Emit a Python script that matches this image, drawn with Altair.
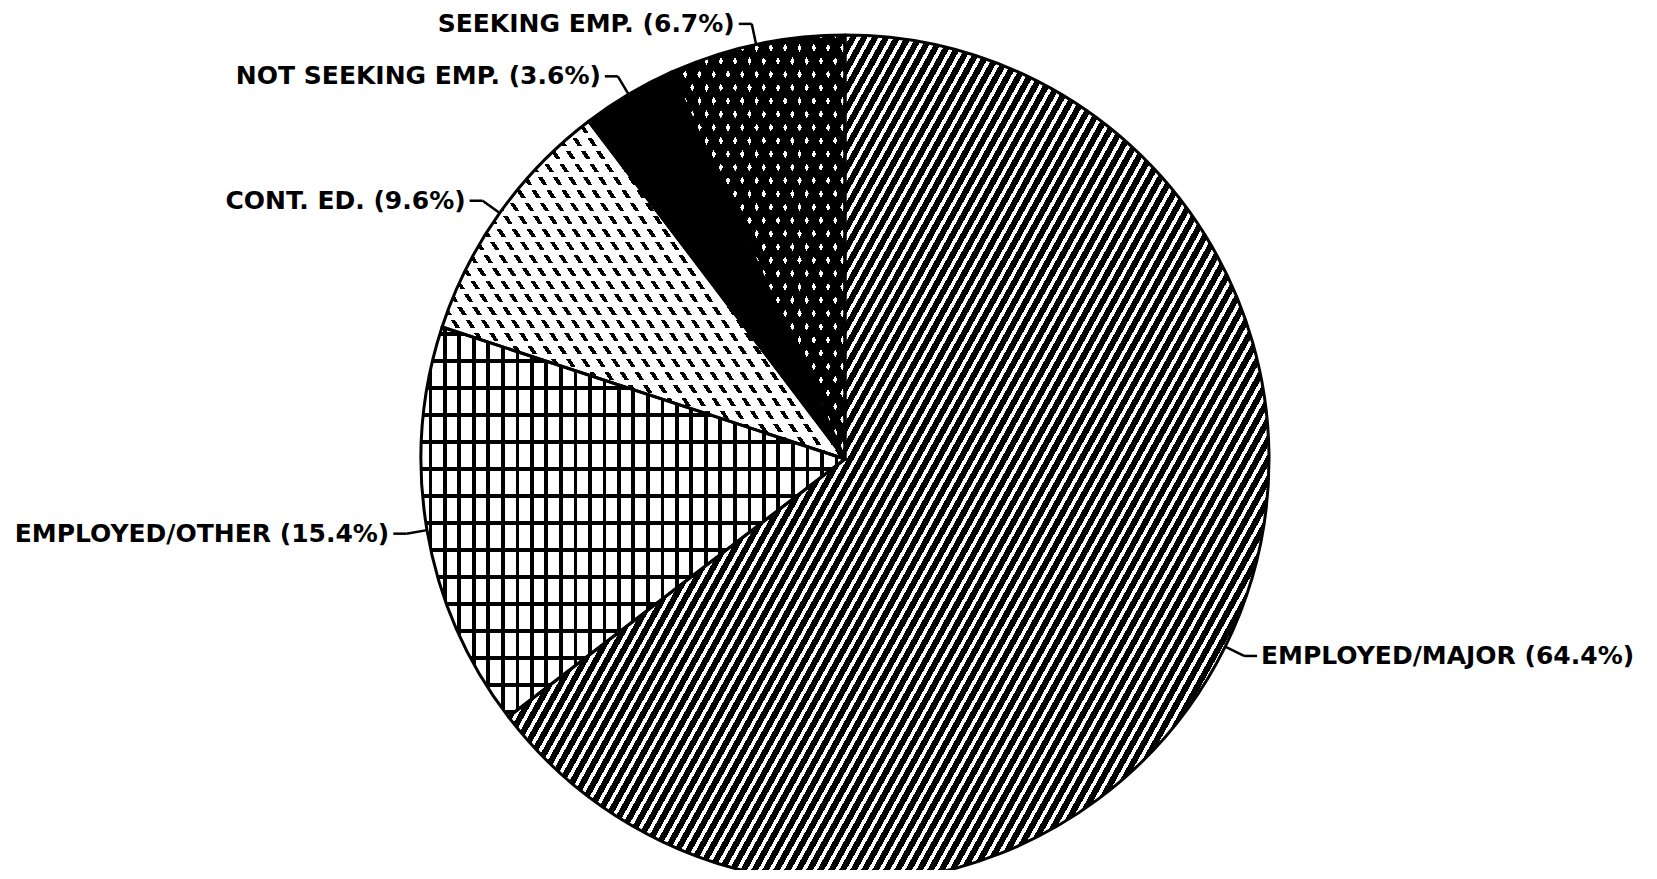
import math
import altair as alt
import pandas as pd

# ---------------- data ----------------
categories = ["EMPLOYED/MAJOR", "EMPLOYED/OTHER", "CONT. ED.", "NOT SEEKING EMP.", "SEEKING EMP."]
percents = [64.4, 15.4, 9.6, 3.6, 6.7]
slice_order = [0, 1, 2, 3, 4]

df = pd.DataFrame({"category": categories, "value": percents, "order": slice_order})
total = float(sum(percents))

# ---------------- layout / style ----------------
W, H = 1636, 862
CX, CY = 837, 451      # pie centre in plot coordinates
R = 424                # pie radius
E, HL, G = 21, 13, 4   # leader: radial part, horizontal part, gap to text
BLACK, WHITE, CLEAR = "#000000", "#ffffff", "rgba(255,255,255,0)"


def rim(a):
    r = math.radians(a)
    return (CX + R * math.sin(r), CY - R * math.cos(r))


spans = {}
acc = 0.0
for c, v in zip(categories, percents):
    a0 = acc / total * 360
    acc += v
    spans[c] = (a0, acc / total * 360)


def bbox(c):
    a0, a1 = spans[c]
    pts = [(CX, CY), rim(a0), rim(a1)]
    for k in range(5):
        if a0 < k * 90 < a1:
            pts.append(rim(k * 90))
    xs = [p[0] for p in pts]
    ys = [p[1] for p in pts]
    return min(xs), min(ys), max(xs) - min(xs), max(ys) - min(ys)


def stripes(c, normal_deg, period, segments):
    """Hatch fill as a hard-stop linear gradient in bounding-box units."""
    X0, Y0, w, h = bbox(c)
    nx, ny = math.cos(math.radians(normal_deg)), math.sin(math.radians(normal_deg))
    if abs(nx) < 1e-9:
        nx = 0.0
    if abs(ny) < 1e-9:
        ny = 0.0
    u0 = 0.0 if nx >= 0 else 1.0
    v0 = 0.0 if ny >= 0 else 1.0
    L = abs(nx) * w + abs(ny) * h
    Q = nx * nx * w * w + ny * ny * h * h
    a = L / Q
    x2 = u0 + a * nx * w
    y2 = v0 + a * ny * h
    c0 = nx * (X0 + u0 * w) + ny * (Y0 + v0 * h)
    bounds = []
    k0 = math.floor(c0 / period) - 1
    k1 = math.ceil((c0 + L) / period) + 1
    for k in range(k0, k1 + 1):
        for f, col in segments:
            bounds.append(((k + f) * period, col))
    bounds.sort(key=lambda b: b[0])
    stops = []
    cur = segments[0][1]
    for s, col in bounds:
        t = (s - c0) / L
        if t <= 0:
            cur = col
            continue
        if t >= 1:
            break
        if not stops:
            stops.append((0.0, cur))
        stops.append((t, cur))
        stops.append((t, col))
        cur = col
    if not stops:
        stops.append((0.0, cur))
    stops.append((1.0, cur))
    return alt.LinearGradient(
        gradient="linear",
        stops=[alt.GradientStop(offset=round(o, 5), color=col) for o, col in stops],
        x1=u0, y1=v0, x2=round(x2, 6), y2=round(y2, 6),
    )


def deg_normal_slash(theta):   # "/" lines at theta degrees from horizontal
    return 90 - theta


def deg_normal_back(theta):    # "\" lines at theta degrees from horizontal
    return -(90 - theta)


# ---------------- base with computed angles ----------------
base = alt.Chart(df).transform_window(
    cum="sum(value)", sort=[alt.SortField("order")], frame=[None, 0]
).transform_joinaggregate(
    tot="sum(value)"
).transform_calculate(
    start="datum.cum - datum.value",
    ang="(datum.cum - datum.value / 2) / datum.tot * 2 * PI",
    label="datum.category + ' (' + datum.value + '%)'",
).transform_calculate(
    x0=f"{CX} + {R} * sin(datum.ang)",
    y0=f"{CY} - {R} * cos(datum.ang)",
    x1=f"{CX} + {R + E} * sin(datum.ang)",
    y1=f"{CY} - {R + E} * cos(datum.ang)",
    side="sin(datum.ang) >= 0 ? 1 : -1",
).transform_calculate(
    xe=f"datum.x1 + datum.side * {HL}",
).transform_calculate(
    xt=f"datum.xe + datum.side * {G}",
)

theta_scale = alt.Scale(domain=[0, total], nice=False, zero=True)
arc_enc = dict(
    theta=alt.Theta("start:Q", scale=theta_scale),
    theta2=alt.Theta2("cum:Q"),
    x=alt.value(CX),
    y=alt.value(CY),
)


def arc_layer(cat, fill):
    return base.transform_filter(alt.datum.category == cat).mark_arc(
        radius=R, fill=fill, strokeWidth=0
    ).encode(**arc_enc)


layers = []
# EMPLOYED/MAJOR : "/" hatching
layers.append(arc_layer(categories[0],
                        stripes(categories[0], deg_normal_slash(61), 11.0 * math.sin(math.radians(61)),
                                [(0.0, BLACK), (0.62, WHITE)])))
# EMPLOYED/OTHER : grid
layers.append(arc_layer(categories[1],
                        stripes(categories[1], 0, 14.5, [(0.0, BLACK), (0.25, WHITE)])))
layers.append(arc_layer(categories[1],
                        stripes(categories[1], 90, 27.0, [(0.0, BLACK), (0.13, CLEAR)])))
# CONT. ED. : short slanted dashes in rows
layers.append(arc_layer(categories[2],
                        stripes(categories[2], deg_normal_back(57), 15.0 * math.sin(math.radians(57)),
                                [(0.0, BLACK), (0.3, WHITE)])))
layers.append(arc_layer(categories[2],
                        stripes(categories[2], 90, 13.0, [(0.0, CLEAR), (0.6, WHITE)])))
# NOT SEEKING EMP. : solid black
layers.append(arc_layer(categories[3], BLACK))
# SEEKING EMP. : black with white diamonds
P_d = 14.3 * math.sin(math.radians(61.7))
layers.append(arc_layer(categories[4],
                        stripes(categories[4], deg_normal_slash(61.7), P_d, [(0.0, BLACK), (0.7, WHITE)])))
layers.append(arc_layer(categories[4],
                        stripes(categories[4], deg_normal_back(61.7), P_d, [(0.0, BLACK), (0.7, CLEAR)])))

# outlines
layers.append(base.mark_arc(radius=R, fillOpacity=0, stroke=BLACK, strokeWidth=3,
                            strokeJoin="round").encode(**arc_enc))

xs = alt.Scale(domain=[0, W], nice=False, zero=False)
ys = alt.Scale(domain=[0, H], nice=False, zero=False, reverse=True)

# leader lines
layers.append(base.mark_rule(stroke=BLACK, strokeWidth=2.5).encode(
    x=alt.X("x0:Q", scale=xs, axis=None), y=alt.Y("y0:Q", scale=ys, axis=None),
    x2="x1:Q", y2="y1:Q"))
layers.append(base.mark_rule(stroke=BLACK, strokeWidth=2.5).encode(
    x=alt.X("x1:Q", scale=xs, axis=None), y=alt.Y("y1:Q", scale=ys, axis=None),
    x2="xe:Q", y2="y1:Q"))

# labels
txt = dict(font="DejaVu Sans", fontWeight="bold", fontSize=25, color=BLACK, baseline="middle")
layers.append(base.transform_filter("datum.side > 0").mark_text(align="left", **txt).encode(
    x=alt.X("xt:Q", scale=xs, axis=None), y=alt.Y("y1:Q", scale=ys, axis=None), text="label:N"))
layers.append(base.transform_filter("datum.side < 0").mark_text(align="right", **txt).encode(
    x=alt.X("xt:Q", scale=xs, axis=None), y=alt.Y("y1:Q", scale=ys, axis=None), text="label:N"))

chart = alt.layer(*layers).properties(
    width=W, height=H, padding=0,
    autosize=alt.AutoSizeParams(type="none"),
    background=WHITE,
).configure_view(strokeWidth=0)

chart.save("out.html", embed_options={"renderer": "svg", "actions": False})
